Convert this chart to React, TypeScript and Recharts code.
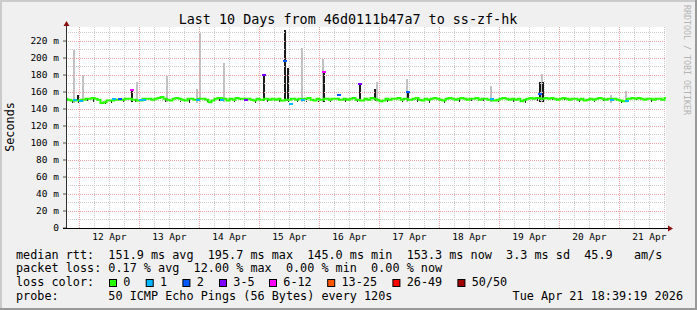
import React from 'react';
import { ComposedChart, Line, Bar, Scatter, XAxis, YAxis, ReferenceLine, CartesianGrid } from 'recharts';

const W = 697;
const H = 310;
const FONT = '"DejaVu Sans Mono", monospace';

// one sample every 1.2 h (10 days over 200 steps)
const STEP_H = 1.2;
// hours from 11 Apr 18:39 to 12 Apr 00:00
const FIRST_MIDNIGHT_H = 5.35;

// median rtt in ms
const medianMs = [
  152, 151, 150, 151, 150, 150, 151, 152, 152, 153,
  152, 151, 147, 148, 150, 150, 152, 151, 152, 151,
  152, 152, 162, 151, 150, 151, 151, 152, 152, 151,
  152, 153, 154, 152, 151, 150, 152, 153, 152, 151,
  150, 152, 152, 151, 151, 152, 152, 151, 148, 150,
  152, 153, 151, 152, 150, 152, 151, 153, 152, 152,
  151, 152, 151, 150, 152, 151, 180, 152, 151, 152,
  151, 152, 150, 196, 151, 146, 152, 151, 152, 151,
  152, 153, 151, 150, 152, 151, 184, 152, 151, 152,
  152, 156, 151, 152, 151, 152, 153, 151, 169, 150,
  152, 151, 153, 152, 151, 149, 150, 152, 151, 152,
  152, 153, 151, 152, 160, 151, 152, 153, 151, 150,
  152, 151, 152, 153, 152, 151, 150, 152, 153, 152,
  151, 152, 153, 152, 151, 152, 152, 153, 151, 152,
  152, 151, 152, 150, 151, 152, 153, 152, 151, 152,
  151, 152, 149, 151, 152, 153, 152, 153, 158, 152,
  153, 152, 153, 152, 151, 152, 153, 152, 151, 152,
  152, 151, 152, 150, 151, 152, 151, 152, 153, 152,
  151, 152, 151, 152, 151, 150, 149, 150, 152, 153,
  152, 153, 152, 151, 152, 152, 151, 152, 152, 151, 153,
];

// samples with packet loss and their loss colour class
const lossIdx = [3, 5, 16, 18, 22, 25, 26, 44, 52, 60, 66, 73, 75, 79, 86, 91, 98, 114, 142, 158, 182, 187];
const lossClass = [1, 1, 1, 2, 4, 1, 1, 1, 1, 3, 3, 2, 1, 1, 4, 2, 3, 2, 1, 2, 1, 1];

// smoke: light outliers and dense dark spread
const lightIdx = [3, 6, 24, 34, 44, 45, 53, 79, 86, 104, 114, 142, 159, 182, 187];
const lightHi = [210, 180, 172, 179, 164, 229, 194, 212, 199, 172, 175, 167, 181, 157, 161];
const darkIdx = [4, 22, 66, 73, 74, 86, 98, 103, 114, 158, 159];
const darkHi = [156, 164, 180, 233, 188, 184, 169, 163, 161, 172, 172];

// small dark smoke specks just under the median
const speckIdx = [2, 4, 7, 9, 13, 15, 19, 23, 28, 33, 38, 41, 47, 51, 56, 58, 63, 67, 71, 74, 77, 80, 84, 88, 93, 97, 100, 103, 107, 112, 117, 121, 126, 131, 135, 139, 144, 149, 153, 157, 162, 166, 171, 176, 179, 185, 190, 195];
const speckLo = [147, 148, 149, 148, 145, 147, 148, 148, 149, 148, 148, 147, 149, 149, 148, 149, 147, 148, 148, 148, 149, 148, 148, 149, 148, 148, 149, 149, 148, 149, 148, 147, 148, 148, 149, 149, 148, 148, 147, 149, 149, 149, 148, 148, 149, 147, 149, 148];

const dayLabels = ['12 Apr', '13 Apr', '14 Apr', '15 Apr', '16 Apr', '17 Apr', '18 Apr', '19 Apr', '20 Apr', '21 Apr'];
const yTicks = [0, 20, 40, 60, 80, 100, 120, 140, 160, 180, 200, 220];
const yMinor = [10, 30, 50, 70, 90, 110, 130, 150, 170, 190, 210, 230];

const lossLabels = ['0', '1', '2', '3-5', '6-12', '13-25', '26-49', '50/50'];
const lossColors = ['#26ff00', '#00b8ff', '#0059ff', '#7e00ff', '#ff00ff', '#ff5500', '#ff0000', '#a10000'];

const legendRtt = 'median rtt:  151.9 ms avg  195.7 ms max  145.0 ms min  153.3 ms now  3.3 ms sd  45.9   am/s';
const legendLoss = 'packet loss: 0.17 % avg  12.00 % max  0.00 % min  0.00 % now';
const legendProbe = 'probe:       50 ICMP Echo Pings (56 Bytes) every 120s';
const stamp = 'Tue Apr 21 18:39:19 2026';

const data = medianMs.map((m, i) => {
  const li = lossIdx.indexOf(i);
  const l = lightIdx.indexOf(i);
  const d = darkIdx.indexOf(i);
  const s = speckIdx.indexOf(i);
  return {
    t: i * STEP_H,
    green: li >= 0 ? null : m,
    light: l >= 0 ? [148, lightHi[l]] : null,
    dark: d >= 0 ? [149, darkHi[d]] : null,
    speck: s >= 0 ? [speckLo[s], m + 1] : null,
  };
});

const lossPoints = lossIdx.map((idx, k) => ({ t: idx * STEP_H, v: medianMs[idx], cls: lossClass[k] }));

const gridHours = dayLabels.flatMap((_, d) => [0, 6, 12, 18].map((h) => FIRST_MIDNIGHT_H + d * 24 + h));
const dayTicks = dayLabels.map((_, d) => FIRST_MIDNIGHT_H + d * 24 + 12);

const LossMark = (props: any) => {
  const { cx, cy, payload } = props;
  return <rect x={Math.round(cx - 2)} y={Math.round(cy - 1)} width={4} height={2} fill={lossColors[payload.cls]} shapeRendering="crispEdges" />;
};

// pixel-snapped smoke column
const smokeShape = (w: number) => (props: any) => {
  const { x, y, width, height, fill } = props;
  if (height == null || isNaN(height)) return <g />;
  const cx = x + width / 2;
  return (
    <rect
      x={Math.round(cx - w / 2)}
      y={Math.round(y)}
      width={w}
      height={Math.max(1, Math.round(height))}
      fill={fill}
      shapeRendering="crispEdges"
    />
  );
};

const txt = { fontFamily: FONT, fontSize: 11.8, fill: '#000', whiteSpace: 'pre' as const };
const MINOR = '#cbcbcb';
const MAJOR = '#e9a3a3';

export default function App() {
  const boxX = [109, 145.7, 182.4, 219, 269, 327.2, 392.4, 457.4];
  return (
    <div style={{ position: 'relative', width: W, height: H, background: '#f0f0f0' }}>
      <style>{'body{margin:0}'}</style>
      <ComposedChart width={W} height={H} data={data} margin={{ top: 27, right: 31, bottom: 62, left: 0 }}>
        <CartesianGrid horizontal={false} vertical={false} fill="#ffffff" stroke="none" />
        {gridHours.map((h, k) => (
          <ReferenceLine key={`vx${k}`} x={h} stroke={k % 4 === 0 ? MAJOR : MINOR} strokeDasharray="1 1" shapeRendering="crispEdges" />
        ))}
        {yMinor.map((v) => (
          <ReferenceLine key={`hy${v}`} y={v} stroke={MINOR} strokeDasharray="1 1" shapeRendering="crispEdges" />
        ))}
        {yTicks.slice(1).map((v) => (
          <ReferenceLine key={`my${v}`} y={v} stroke={MAJOR} strokeDasharray="1 1" shapeRendering="crispEdges" />
        ))}
        <XAxis
          type="number"
          dataKey="t"
          domain={[0, 240]}
          ticks={dayTicks}
          interval={0}
          tickFormatter={(v: number) => dayLabels[dayTicks.indexOf(v)] ?? ''}
          axisLine={false}
          tickLine={false}
          tickSize={0}
          tickMargin={5}
          height={20}
          tick={{ fontFamily: FONT, fontSize: 9.5, fill: '#000' }}
        />
        <YAxis
          type="number"
          domain={[0, 236.5]}
          ticks={yTicks}
          interval={0}
          allowDataOverflow
          width={66}
          tickFormatter={(v: number) => (v === 0 ? '0' : `${v} m`)}
          axisLine={false}
          tickLine={{ stroke: '#555' }}
          tickSize={3}
          tickMargin={4}
          tick={{ fontFamily: FONT, fontSize: 9.5, fill: '#000' }}
        />
        <Bar dataKey="light" fill="#c2c2c2" barSize={2} shape={smokeShape(2)} isAnimationActive={false} />
        <Bar dataKey="dark" fill="#1a1a1a" barSize={2} shape={smokeShape(2)} isAnimationActive={false} />
        <Bar dataKey="speck" fill="#2a2a2a" barSize={2} shape={smokeShape(1)} isAnimationActive={false} />
        <Line
          type="step"
          dataKey="green"
          stroke="#26ff00"
          strokeWidth={2}
          dot={false}
          connectNulls
          isAnimationActive={false}
        />
        <Scatter data={lossPoints} dataKey="v" shape={LossMark} isAnimationActive={false} />
      </ComposedChart>

      <svg width={W} height={H} style={{ position: 'absolute', left: 0, top: 0, pointerEvents: 'none' }}>
        {/* frame */}
        <line x1={0} y1={1} x2={W} y2={1} stroke="#cbcbcb" strokeWidth={2} />
        <line x1={1} y1={0} x2={1} y2={H} stroke="#cbcbcb" strokeWidth={2} />
        <line x1={0} y1={H - 1} x2={W} y2={H - 1} stroke="#999999" strokeWidth={2} />
        <line x1={W - 1} y1={0} x2={W - 1} y2={H} stroke="#999999" strokeWidth={2} />

        <text x={348} y={24} textAnchor="middle" style={{ ...txt, fontSize: 13.4 }}>
          Last 10 Days from 46d0111b47a7 to ss-zf-hk
        </text>
        <text x={14} y={127} textAnchor="middle" transform="rotate(-90 14 127)" style={txt}>
          Seconds
        </text>
        <text x={684} y={60} textAnchor="middle" transform="rotate(90 684 60)" style={{ ...txt, fontSize: 8.3, fill: '#b4b4b4' }}>
          RRDTOOL / TOBI OETIKER
        </text>

        {/* axes */}
        <line x1={66.5} y1={228} x2={66.5} y2={25} stroke="#303030" />
        <polygon points="63.5,26 69.5,26 66.5,21" fill="#8a1010" />
        <line x1={63} y1={228.5} x2={668} y2={228.5} stroke="#000" />
        <polygon points="668,225.5 668,231.5 673,228.5" fill="#8a1010" />

        {/* legend */}
        <text x={16} y={258.5} xmlSpace="preserve" style={txt}>{legendRtt}</text>
        <text x={16} y={272.2} xmlSpace="preserve" style={txt}>{legendLoss}</text>
        <text x={16} y={285.9} xmlSpace="preserve" style={txt}>loss color:</text>
        {lossLabels.map((lab, k) => (
          <g key={lab}>
            <rect x={boxX[k] + 0.5} y={279.5} width={7} height={7} fill={lossColors[k]} stroke="#000" />
            <text x={boxX[k] + 14.3} y={285.9} style={txt}>{lab}</text>
          </g>
        ))}
        <text x={16} y={299.6} xmlSpace="preserve" style={txt}>{legendProbe}</text>
        <text x={683} y={299.6} textAnchor="end" style={txt}>{stamp}</text>
      </svg>
    </div>
  );
}
